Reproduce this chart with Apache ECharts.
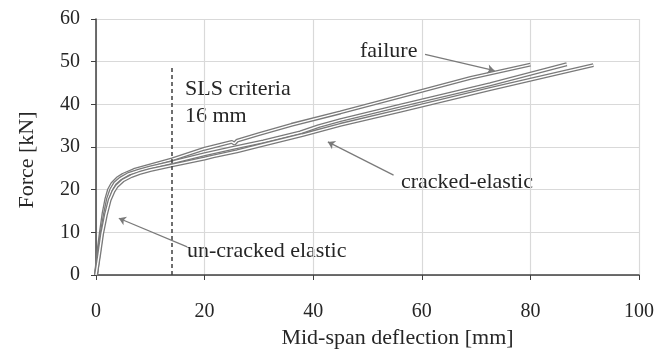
<!DOCTYPE html>
<html lang="en">
<head>
    <meta charset="UTF-8">
    <title>Force vs mid-span deflection</title>
    <script src="https://cdn.jsdelivr.net/npm/echarts@6/dist/echarts.min.js"></script>
    <style>
        body { margin: 0; background: #fff; }
    </style>
</head>
<body>
    <div id="main" style="width: 668px; height: 350px"></div>
    <script type="text/javascript">
        // curves: [deflection mm], [force kN]
        var failDefl  = [0, 0.4, 0.9, 1.4, 1.9, 2.4, 3, 4, 5, 7, 10, 14, 20, 25, 25.5, 26, 30, 36, 45, 56, 69, 80];
        var failForce = [0, 5, 10, 14.5, 17.8, 20, 21.4, 22.7, 23.5, 24.6, 25.7, 27.1, 29.6, 31.2, 30.8, 31.5, 33, 35.2, 38.1, 41.8, 46.2, 49.3];

        var midDefl  = [0, 0.5, 1, 1.6, 2.2, 2.8, 3.5, 4.5, 6, 8, 10, 14, 14.3, 14.6, 20, 26, 30.8, 31.1, 37.6, 37.9, 41, 45, 56, 72.6, 86.7];
        var midForce = [0, 5, 9.5, 14, 17.8, 20, 21.5, 22.6, 23.7, 24.5, 25.2, 26.4, 26, 26.6, 28.3, 30, 31.3, 30.9, 33.4, 33.1, 34.9, 36.3, 39.7, 44.7, 49.4];

        var lowDefl  = [0, 0.6, 1.1, 1.8, 2.5, 3.2, 3.8, 5, 6.5, 8, 10, 14, 20, 21.6, 21.9, 26, 30, 38, 45, 56, 72.6, 91.6];
        var lowForce = [0, 5, 9.5, 14, 17.5, 19.6, 20.8, 22.2, 23.2, 23.9, 24.6, 25.7, 27.3, 27.8, 27.4, 29, 30.3, 32.8, 35.2, 38.5, 43.6, 49.2];

        // SLS limit line
        var slsDefl = 14;
        var slsTop = 49;

        // annotation arrows, [from, to] in data units
        var arrows = [
            [[60.6, 51.7], [73.4, 47.9]],
            [[54.8, 23.4], [42.7, 31.2]],
            [[16.8, 6.6], [4.2, 13.3]]
        ];

        var xTicks = { min: 0, max: 100, interval: 20 };
        var yTicks = { min: 0, max: 60, interval: 10 };

        function zip(xs, ys) {
            var out = [];
            for (var i = 0; i < xs.length; i++) out.push([xs[i], ys[i]]);
            return out;
        }

        var curves = [zip(failDefl, failForce), zip(midDefl, midForce), zip(lowDefl, lowForce)];
        var serif = 'Liberation Serif';
        var txt = '#262626';

        var series = [];
        // each curve drawn as a grey outline with a white core
        curves.forEach(function (d) {
            series.push({
                type: 'line', data: d, symbol: 'none', silent: true,
                lineStyle: { color: '#7a7a7a', width: 4 }, z: 3
            });
            series.push({
                type: 'line', data: d, symbol: 'none', silent: true,
                lineStyle: { color: '#ffffff', width: 1.4 }, z: 3
            });
        });

        series.push({
            type: 'line', data: [], silent: true,
            markLine: {
                silent: true,
                symbol: ['none', 'none'],
                label: { show: false },
                lineStyle: { color: '#404040', width: 1.5, type: [4, 3] },
                data: [[{ coord: [slsDefl, 0] }, { coord: [slsDefl, slsTop] }]]
            }
        });
        series.push({
            type: 'line', data: [], silent: true,
            markLine: {
                silent: true,
                symbol: ['none', 'arrow'],
                symbolSize: 7,
                label: { show: false },
                lineStyle: { color: '#7a7a7a', width: 1.2, type: 'solid' },
                data: arrows.map(function (a) {
                    return [{ coord: a[0] }, { coord: a[1] }];
                })
            }
        });

        var option = {
            animation: false,
            backgroundColor: '#fff',
            grid: { left: 96, right: 29, top: 19, bottom: 75, containLabel: false, outerBoundsMode: 'none' },
            xAxis: {
                type: 'value',
                min: xTicks.min, max: xTicks.max, interval: xTicks.interval,
                name: 'Mid-span deflection [mm]',
                nameLocation: 'middle',
                nameGap: 51,
                nameTextStyle: { fontFamily: serif, fontSize: 22, color: txt, padding: [0, 0, 0, 60] },
                axisLine: { lineStyle: { color: '#404040', width: 1.5 } },
                axisTick: { show: true, length: 5, lineStyle: { color: '#404040' } },
                axisLabel: { margin: 27, fontFamily: serif, fontSize: 20, color: txt },
                splitLine: { lineStyle: { color: '#d9d9d9', width: 1.2 } }
            },
            yAxis: {
                type: 'value',
                min: yTicks.min, max: yTicks.max, interval: yTicks.interval,
                name: 'Force [kN]',
                nameLocation: 'middle',
                nameGap: 58,
                nameTextStyle: { fontFamily: serif, fontSize: 22, color: txt, padding: [0, 26, 0, 0] },
                axisLine: { show: true, lineStyle: { color: '#404040', width: 1.5 } },
                axisTick: { show: true, length: 5, lineStyle: { color: '#404040' } },
                axisLabel: { margin: 16, fontFamily: serif, fontSize: 20, color: txt },
                splitLine: { lineStyle: { color: '#d9d9d9', width: 1.2 } }
            },
            graphic: [
                { type: 'text', left: 360, top: 40, style: { text: 'failure', font: '22px "Liberation Serif"', fill: txt } },
                { type: 'text', left: 185, top: 78, style: { text: 'SLS criteria', font: '22px "Liberation Serif"', fill: txt } },
                { type: 'text', left: 185, top: 105, style: { text: '16 mm', font: '22px "Liberation Serif"', fill: txt } },
                { type: 'text', left: 401, top: 171, style: { text: 'cracked-elastic', font: '22px "Liberation Serif"', fill: txt } },
                { type: 'text', left: 187, top: 240, style: { text: 'un-cracked elastic', font: '22px "Liberation Serif"', fill: txt } }
            ],
            series: series
        };

        var myChart = echarts.init(document.getElementById('main'));
        myChart.setOption(option);
    </script>
</body>
</html>
